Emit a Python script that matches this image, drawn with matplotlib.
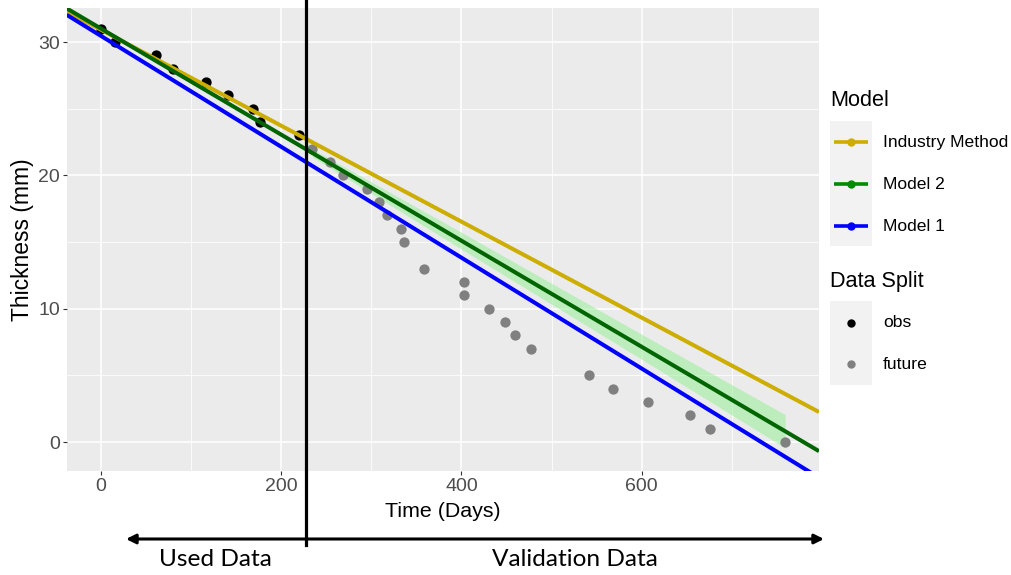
import numpy as np
import matplotlib
matplotlib.use("Agg")
import matplotlib.pyplot as plt
from matplotlib.lines import Line2D
import matplotlib.transforms as mtransforms

# observed thickness readings (used for fitting)
obs_days = [0, 16, 61, 80, 117, 141, 169, 177, 220]
obs_thick = [31, 30, 29, 28, 27, 26, 25, 24, 23]

# later readings (validation)
fut_days = [234, 254, 269, 295, 309, 317, 333, 336, 358, 403, 403, 431, 448,
            460, 477, 542, 568, 607, 653, 676, 759]
fut_thick = [22, 21, 20, 19, 18, 17, 16, 15, 13, 12, 11, 10, 9,
             8, 7, 5, 4, 3, 2, 1, 0]

# fitted lines: intercept (mm) and slope (mm/day)
models = ["Industry Method", "Model 2", "Model 1"]
intercepts = [30.93, 31.02, 30.47]
slopes = [-0.0360, -0.0398, -0.0416]
colors = ["#CDAD00", "#006400", "#0000FF"]
legend_colors = ["#CDAD00", "#008B00", "#0000FF"]

# prediction band around Model 2
band_days = [235, 400, 600, 759]
band_half = [0.30, 0.63, 0.94, 1.25]

split_day = 228
xlim = (-37.7, 796.6)
ylim = (-2.15, 32.55)

W, H = 1012, 575
fig = plt.figure(figsize=(W / 100, H / 100), dpi=100)
plt.rcParams['font.family'] = ['Liberation Sans', 'DejaVu Sans']

def fx(px):
    return px / W

def fy(py):
    return 1 - py / H

ax = fig.add_axes([fx(66.7), fy(470.7), fx(819) - fx(66.7), fy(8) - fy(470.7)])
ax.set_facecolor("#EBEBEB")
for s in ax.spines.values():
    s.set_visible(False)
ax.set_xlim(*xlim)
ax.set_ylim(*ylim)
ax.set_xticks([0, 200, 400, 600])
ax.set_xticks([100, 300, 500, 700], minor=True)
ax.set_yticks([0, 10, 20, 30])
ax.set_yticks([5, 15, 25], minor=True)
ax.grid(which="major", color="white", lw=1.1)
ax.grid(which="minor", color="white", lw=0.55)
ax.set_axisbelow(True)
ax.tick_params(which="major", length=3, width=0.8, color="#333333",
               labelcolor="#4D4D4D", labelsize=14, pad=2)
ax.tick_params(which="minor", length=0)
ax.set_xlabel("Time (Days)", fontsize=15.4, labelpad=5)
ax.set_ylabel("Thickness (mm)", fontsize=16.5, labelpad=3)

# band
bx = np.array(band_days, dtype=float)
bc = intercepts[1] + slopes[1] * bx
bh = np.array(band_half)
ax.fill_between(bx, bc - bh, bc + bh, color="#90EE90", alpha=0.5, lw=0, zorder=2)

# points
ax.scatter(obs_days, obs_thick, s=55, color="black", zorder=3, lw=0)
ax.scatter(fut_days, fut_thick, s=55, color="#808080", zorder=3, lw=0)

# lines
xx = np.array(xlim)
for name, b, m, c in zip(models, intercepts, slopes, colors):
    ax.plot(xx, b + m * xx, color=c, lw=2.9, zorder=4, solid_capstyle="butt")

# split marker, reaching beyond the panel
trans = mtransforms.blended_transform_factory(ax.transData, fig.transFigure)
ax.add_line(Line2D([split_day, split_day], [fy(0), fy(545)], transform=trans,
                   color="black", lw=2.3, clip_on=False, zorder=5))

# double arrow under the axis
ax.annotate("", xy=(fx(824), fy(539)), xytext=(fx(126), fy(539)),
            xycoords="figure fraction", textcoords="figure fraction",
            arrowprops=dict(arrowstyle="<|-|>", color="black", lw=2.2,
                            mutation_scale=14, shrinkA=0, shrinkB=0))
fig.text(fx(215), fy(559), "Used Data", ha="center", va="center",
         fontsize=17.6, family=["Lato", "DejaVu Sans"])
fig.text(fx(575), fy(559), "Validation Data", ha="center", va="center",
         fontsize=17.6, family=["Lato", "DejaVu Sans"])

# legend drawn in pixel space
lg = fig.add_axes([0, 0, 1, 1], zorder=-1)
lg.set_xlim(0, W)
lg.set_ylim(H, 0)
lg.axis("off")
lg.text(830, 100, "Model", fontsize=15.6, va="center", ha="left")
lg.add_patch(plt.Rectangle((830, 120.7), 42, 125.3, color="#F2F2F2", lw=0))
for i, (name, c) in enumerate(zip(models, legend_colors)):
    yy = 142.3 + 42 * i
    lg.plot([834, 868], [yy, yy], color=c, lw=2.6, solid_capstyle="butt")
    lg.plot([851], [yy], "o", color=c, ms=5)
    lg.text(883, yy, name, fontsize=12.6, va="center", ha="left")
lg.text(830, 282, "Data Split", fontsize=15.6, va="center", ha="left")
lg.add_patch(plt.Rectangle((830, 301), 42, 84, color="#F2F2F2", lw=0))
for yy, name, c in [(322.7, "obs", "black"), (364.3, "future", "#808080")]:
    lg.plot([851], [yy], "o", color=c, ms=5)
    lg.text(883, yy, name, fontsize=12.6, va="center", ha="left")

fig.savefig("out.png", dpi=100)
